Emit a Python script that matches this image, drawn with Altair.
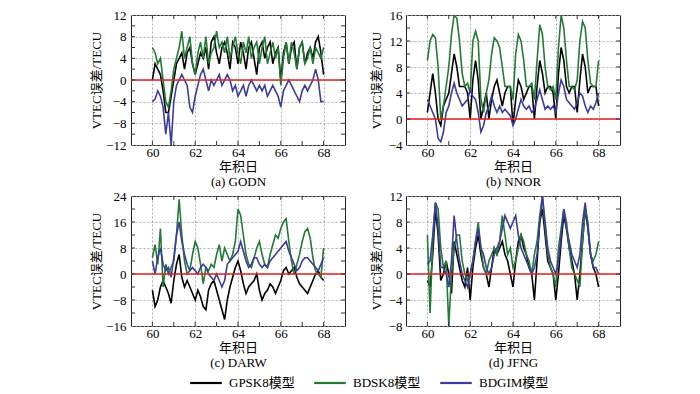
import altair as alt
import pandas as pd

# sampling grid (day of year), 0.125-day steps from 60 to 68
days = [60 + i * 0.125 for i in range(65)]

models = ["GPSK8模型", "BDSK8模型", "BDGIM模型"]
colors = ["#000000", "#237a36", "#3c3c9c"]

# ---------------- (a) GODN ----------------
a_gps = [0, 3, 2, 1, -2, -6, -6, -3, 0, 3, 4, 5, 2, 5, 6, 3,
         1, 3, 5, 4, 6, 2, 7, 8, 5, 3, 6, 7, 5, 2, 7, 6,
         3, 7, 5, 2, 6, 7, 4, 1, 6, 7, 4, 6, 7, 3, 5, 6,
         0, 5, 7, 3, 6, 7, 2, 6, 7, 3, 5, 6, 4, 7, 8, 5, 1]
a_bds = [6, 5, 3, 4, 0, -4, -5, -2, 2, 4, 6, 9, 4, 6, 8, 3,
         1, 5, 7, 4, 8, 3, 5, 6, 9, 6, 7, 5, 8, 4, 6, 8,
         5, 3, 7, 5, 8, 4, 6, 7, 3, 6, 8, 3, 5, 7, 4, 6,
         -1, 4, 7, 3, 7, 5, 2, 6, 7, 3, 4, 6, 3, 6, 5, 4, 6]
a_gim = [-4, -3.5, -2, -3, -5, -10, -6, -12, -4, -1, 0, 1, 0, -1, -5, -6,
         -3, -1, 1, 2, 0, -2, 0, -1, 0, 1, -1, 0, 1, 0, -2, -1,
         -3, -2, -1, -3, -1, 0, -1, -2, -1, -2, -1, -3, -2, -1, -2, -3,
         -5, -2, -1, 0, -1, -2, -3, -4, -2, -1, -2, -1, 0, 2, 0, -4, -4]

# ---------------- (b) NNOR ----------------
b_gps = [1, 4, 7, 4, 0, -1, 2, 3, 4, 7, 10, 8, 5, 5, 5, 4,
         0, 6, 9, 6, 0, 2, 4, 0, 3, 5, 6, 4, 2, 4, 5, 5,
         -1, 3, 6, 5, 3, 4, 5, 5, 0, 5, 9, 7, 4, 5, 5, 4,
         0, 7, 11, 9, 5, 4, 5, 5, 1, 6, 10, 8, 4, 5, 5, 5, 2]
b_bds = [9, 12, 13, 12.5, 8, 0, 2, 5, 8, 13, 16, 15.5, 12, 7, 5, 5.5,
         4, 12, 13.5, 12, 3, 1, 4, 6, 10, 12.5, 12, 11, 8, 5, 5, 5,
         3, 10, 13, 12, 9, 5, 5, 5.5, 3, 9, 14.5, 13, 8, 5, 4.5, 5,
         3, 11, 16, 14, 9, 5, 5, 4.5, 6, 12, 15, 14, 9, 5.5, 5, 5, 9]
b_gim = [3, 2, 1, 0, -3, -3.5, -2, 1, 2, 4, 5.5, 4, 3, 2, 2.5, 3,
         4.5, 3.5, 3, 1, -2, -1, 1, 2, 3.5, 2, 1, 2, 1, 1.5, 1, 0.5,
         -1, 0, 1.5, 3, 2, 1.5, 2, 1, 1.5, 3, 4.5, 3, 1.5, 2, 1.5, 2,
         1, 4, 6, 5, 3, 2.5, 2, 1.5, 2.5, 4, 3.5, 2, 1, 2, 1.5, 2.5, 4]

# ---------------- (c) DARW ----------------
c_gps = [-5, -10, -8, -4, -2, -4, -6, -9, -2, 3, 6, -1, -4, -2, -4, -6,
         -8, -5, -7, -10, -11, -5, -3, -2, -5, -8, -11, -14, -8, -4, -1, 2,
         4, 1, -3, -6, -4, -3, -2, 0, -5, -8, -6, -5, -3, -4, -6, -4,
         -2, 1, 2, 0, 1, 2, -1, -3, -4, -5, -6, -4, -2, 0, 1, -1, -2]
c_bds = [5, 9, 3, 14, -4, 3, 0, 2, 4, 12, 23, 12, 4, 0, 1, 6,
         10, 8, 3, -3, 2, 1, 3, 2, 6, 9, 4, 8, 6, 4, 6, 10,
         20, 18, 12, 6, 3, 2, 5, 8, 10, 6, 3, 2, 6, 9, 12, 11,
         14, 16, 17, 10, 4, 0, 3, 6, 10, 13, 14, 11, 5, 1, 0, -1, 8]
c_gim = [4, 0, 5, 8, 3, 1, 2, -1, 5, 12, 16, 10, 6, 3, 1, 2,
         1, 0, 2, 3, 2, 0, -1, -2, 0, -2, -4, -2, 3, 4, 5, 6,
         7, 10, 7, 4, 2, 3, 5, 5, 3, 2, 3, 2, 4, 5, 6, 7,
         8, 9, 10, 7, 5, 3, 1, 2, 4, 5, 5, 4, 3, 2, 1, 3, 5]

# ---------------- (d) JFNG ----------------
d_gps = [-1, -2, 3, 10, 6, -1, 0, 2, 0, -3, 5, 3, 1, -1, -2, 1,
         -4, 1, 4, 6, 3, 1, 0, -2, 1, 4, 3, 4, 5, 3, 2, 0,
         -2, 2, 5, 6, 4, 3, 1, 0, -4, 2, 8, 10, 6, 2, 1, 0,
         -4, 0, 5, 9, 7, 4, 2, 0, -4, 0, 5, 10, 7, 3, 1, 0, -2]
d_bds = [6, -6, 5, 11, 10, 4, 1, 2, -8, 0, 4, 6, 6, 2, 0, -1,
         0, 2, 5, 8, 4, 1, 0, 2, 3, 4, 3, 5, 9, 6, 3, 4,
         1, 2, 4, 6, 5, 3, 2, 0, 3, 5, 9, 12, 7, 3, 1, 0,
         -2, 4, 7, 10, 8, 4, 1, 0, -1, -2, 5, 10, 8, 3, 2, 3, 5]
d_gim = [1.5, 2, 6, 11, 7, 1, 1, 0, -2, 2, 9, 5, 2, 0, -1, -2,
         0, 2, 5, 7, 4, 3, 1, 0, 1, 3, 4, 5, 7, 9, 8, 7,
         8, 9, 6, 4, 3, 2, 1, 0, 1, 3, 8, 12, 8, 4, 2, 1,
         0, 2, 6, 10, 7, 5, 3, 2, 1, 3, 8, 11, 7, 3, 1, 1, 0]

x_ticks = [60, 62, 64, 66, 68]
x_minor = [60, 61, 62, 63, 64, 65, 66, 67, 68]
X_DOMAIN = [59, 69]

SERIF = "Liberation Serif, 'Noto Sans CJK SC'"
GRID = dict(grid=True, gridDash=[2, 2], gridColor="#9a9a9a", gridWidth=0.8)
TICK_COLOR = "#333333"

color_scale = alt.Scale(domain=models, range=colors)


def panel(series, ydom, ystep, caption, label_pad, title_pad):
    yvals = list(range(ydom[0], ydom[1] + 1, ystep))
    yminor = [v for v in range(ydom[0], ydom[1] + 1, ystep // 2)
              if ydom[0] < v < ydom[1]]
    xenc = alt.X(
        "day:Q",
        scale=alt.Scale(domain=X_DOMAIN, nice=False),
        axis=alt.Axis(values=x_ticks, title=["年积日", caption], ticks=False,
                      domain=False, labelPadding=1, titlePadding=1,
                      titleLineHeight=15, labelOverlap=False, **GRID),
    )
    yenc = alt.Y(
        "value:Q",
        scale=alt.Scale(domain=list(ydom), nice=False, zero=False),
        axis=alt.Axis(values=yvals, title="VTEC误差/TECU", ticks=False,
                      domain=False, labelPadding=label_pad,
                      labelOverlap=False, labelSeparation=0,
                      titlePadding=title_pad, **GRID),
    )
    layers = []
    for name, vals in zip(models, series):
        df = pd.DataFrame({"day": days, "value": vals, "model": name})
        layers.append(
            alt.Chart(df).mark_line(strokeWidth=1.6, clip=True).encode(
                x=xenc, y=yenc,
                color=alt.Color("model:N", scale=color_scale, title=None),
            )
        )
    zero = alt.Chart(pd.DataFrame({"value": [0]})).mark_rule(
        color="#e3231c", strokeWidth=1.6
    ).encode(y=yenc)

    # inward tick marks on the four sides of the frame (clipped half-ticks)
    side_ticks = pd.concat([
        pd.DataFrame({"day": X_DOMAIN[0], "value": yminor}),
        pd.DataFrame({"day": X_DOMAIN[1], "value": yminor}),
    ])
    edge_ticks = pd.concat([
        pd.DataFrame({"day": x_minor, "value": ydom[0]}),
        pd.DataFrame({"day": x_minor, "value": ydom[1]}),
    ])
    sides = alt.Chart(side_ticks).mark_tick(
        orient="horizontal", size=8, thickness=1, color=TICK_COLOR,
        clip=True, opacity=1).encode(x=xenc, y=yenc)
    edges = alt.Chart(edge_ticks).mark_tick(
        orient="vertical", size=8, thickness=1, color=TICK_COLOR,
        clip=True, opacity=1).encode(x=xenc, y=yenc)

    return alt.layer(*layers, zero, sides, edges).properties(
        width=214, height=130)


pa = panel([a_gps, a_bds, a_gim], (-12, 12), 4, "(a) GODN", 5, 2)
pb = panel([b_gps, b_bds, b_gim], (-4, 16), 4, "(b) NNOR", 4, 5)
pc = panel([c_gps, c_bds, c_gim], (-16, 24), 8, "(c) DARW", 5, 2)
pd_ = panel([d_gps, d_bds, d_gim], (-8, 12), 4, "(d) JFNG", 4, 5)

row1 = alt.hconcat(pa, pb, spacing=22)
row2 = alt.hconcat(pc, pd_, spacing=22)

chart = (
    alt.vconcat(row1, row2, spacing=0)
    .properties(padding={"left": 82, "top": 0, "right": 0, "bottom": 0})
    .configure_view(stroke="#222222", strokeWidth=1)
    .configure_axis(labelFont=SERIF, titleFont=SERIF, labelFontSize=13,
                    titleFontSize=13, titleFontWeight="normal",
                    labelColor="#000000", titleColor="#000000",
                    labelOverlap=False)
    .configure_legend(orient="none", legendX=58, legendY=351,
                      direction="horizontal", symbolType="stroke",
                      symbolSize=1000, symbolStrokeWidth=2.2,
                      labelFont=SERIF, labelFontSize=13, labelColor="#000000",
                      columnPadding=14, labelOffset=6)
)

chart.save("out.html", embed_options={"renderer": "svg", "actions": False})
